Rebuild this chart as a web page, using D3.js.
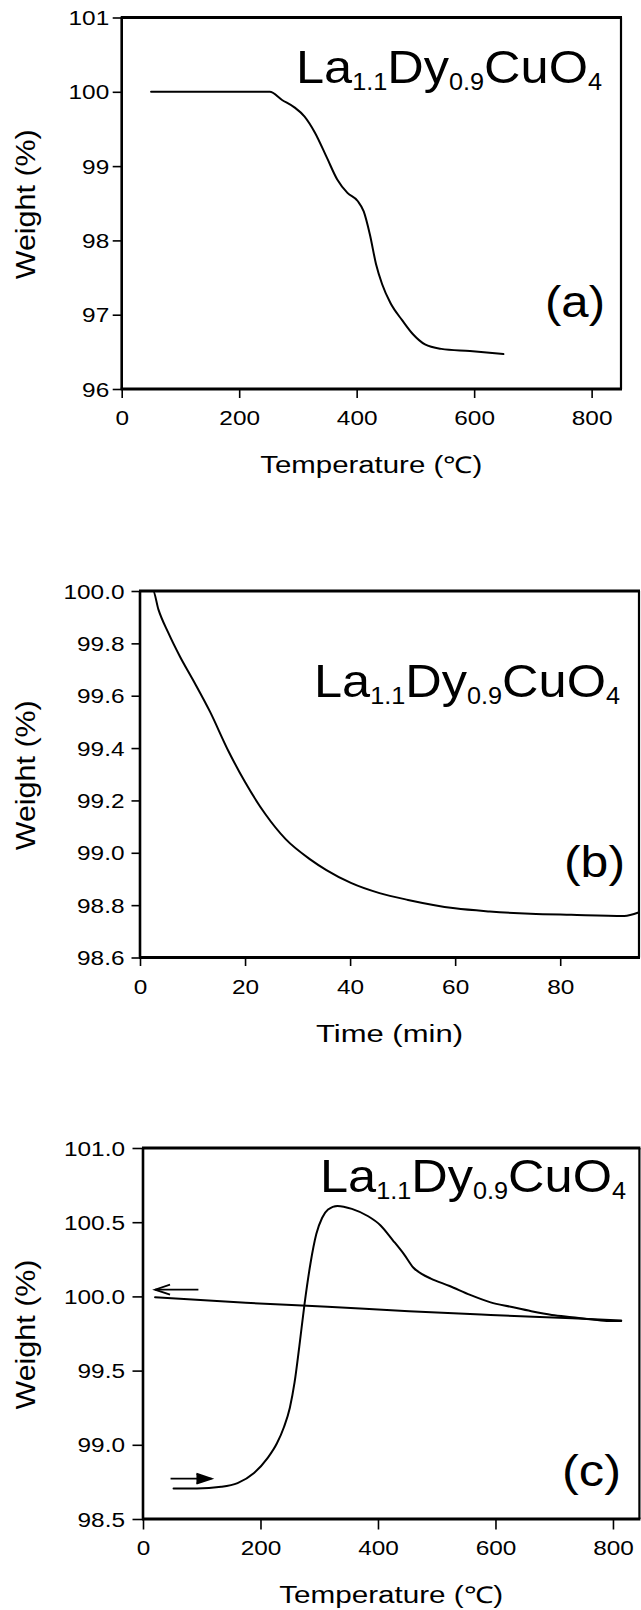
<!DOCTYPE html>
<meta charset="utf-8">
<style>
body { margin: 0; background: #fff; }
svg { display: block; }
.curve { fill: none; stroke: #000; stroke-width: 2px; stroke-linejoin: round; stroke-linecap: round; }
text { font-family: "Liberation Sans", Arial, Helvetica, sans-serif; fill: #000; }
</style>
<body></body>
<script src="https://cdn.jsdelivr.net/npm/d3@7"></script>
<script>

// ---- data ----

// (a) weight vs temperature
var tempA   = [50, 252, 273, 294, 311, 329, 349.5, 366.9, 384.3, 401.7, 412, 422.5, 433, 443.4, 457.3, 478, 495.5, 516.3, 544, 592.8, 649.8];
var weightA = [100.0, 100.0, 99.89, 99.79, 99.67, 99.45, 99.11, 98.82, 98.64, 98.53, 98.39, 98.08, 97.68, 97.41, 97.16, 96.92, 96.74, 96.60, 96.54, 96.51, 96.47];

// (b) weight vs time
var timeB   = [0, 2.5, 3.5, 5.4, 7.6, 10.1, 13.3, 16.8, 20, 23.85, 27.73, 32.39, 35.49, 40.15, 45.6, 51.03, 59.96, 66.57, 74.33, 82.1, 92.2, 94.9];
var weightB = [100.0, 100.0, 99.93, 99.84, 99.75, 99.66, 99.54, 99.39, 99.27, 99.148, 99.052, 98.975, 98.934, 98.885, 98.846, 98.82, 98.788, 98.776, 98.767, 98.763, 98.759, 98.772];

// (c) heating run and cooling run
var tempHeat   = [52, 91.7, 133, 161, 189, 212, 228, 240, 250, 258, 266, 275, 285, 295, 305, 315, 331, 355.6, 383.3, 404, 425, 445, 460, 475, 490, 522, 557, 591.7, 626, 661, 696, 730.5, 765, 793, 814];
var weightHeat = [98.706, 98.706, 98.717, 98.742, 98.81, 98.91, 99.01, 99.12, 99.25, 99.42, 99.66, 99.95, 100.22, 100.42, 100.53, 100.585, 100.61, 100.59, 100.54, 100.48, 100.38, 100.28, 100.195, 100.15, 100.12, 100.07, 100.01, 99.96, 99.93, 99.90, 99.875, 99.86, 99.845, 99.835, 99.835];
var tempCool   = [20.5, 175, 314, 452.8, 591.7, 730.5, 814];
var weightCool = [99.995, 99.957, 99.93, 99.90, 99.875, 99.852, 99.837];

// arrows in (c): [T start, T end, weight]
var arrowCool = [94.3, 20.5, 100.045];
var arrowHeat = [46.9, 116.5, 98.772];

// ticks
var tempTicks = [0, 200, 400, 600, 800];
var timeTicks = [0, 20, 40, 60, 80];
var ticksA = [96, 97, 98, 99, 100, 101];
var ticksB = [98.6, 98.8, 99.0, 99.2, 99.4, 99.6, 99.8, 100.0];
var ticksC = [98.5, 99.0, 99.5, 100.0, 100.5, 101.0];

var formula = [["La", false], ["1.1", true], ["Dy", false], ["0.9", true], ["CuO", false], ["4", true]];

var svg = d3.select("body").append("svg")
    .attr("width", 641)
    .attr("height", 1610);

function drawPanel(p) {
    var x = d3.scaleLinear().domain(p.xDomain).range([p.left, p.right]);
    var y = d3.scaleLinear().domain(p.yDomain).range([p.bottom, p.top]);
    var g = svg.append("g");

    // y axis
    var ya = g.append("g")
        .attr("transform", "translate(" + x(0) + ",0)")
        .call(d3.axisLeft(y).tickValues(p.yTicks).tickFormat(p.yFormat).tickSize(p.tick).tickSizeOuter(0));
    ya.select(".domain").remove();
    ya.selectAll("line").attr("stroke-width", 1.6);
    ya.selectAll("text")
        .attr("x", 0).attr("dy", "0.36em")
        .attr("transform", "translate(" + (-p.yGap) + ",0) scale(1.25,1)")
        .style("font-size", "19.5px");

    // x axis
    var xa = g.append("g")
        .attr("transform", "translate(0," + p.bottom + ")")
        .call(d3.axisBottom(x).tickValues(p.xTicks).tickFormat(d3.format("d")).tickSize(p.tick).tickSizeOuter(0));
    xa.select(".domain").remove();
    xa.selectAll("line").attr("stroke-width", 1.6);
    xa.selectAll("text")
        .attr("y", 0).attr("dy", 0)
        .attr("transform", "translate(0,36) scale(1.25,1)")
        .style("font-size", "19.5px");

    // frame
    g.append("line").attr("x1", p.left - 1).attr("x2", p.right + 1).attr("y1", p.top).attr("y2", p.top)
        .attr("stroke", "#000").attr("stroke-width", 3);
    g.append("line").attr("x1", p.left - 1).attr("x2", p.right + 1).attr("y1", p.bottom).attr("y2", p.bottom)
        .attr("stroke", "#000").attr("stroke-width", 3.2);
    g.append("line").attr("x1", p.left).attr("x2", p.left).attr("y1", p.top).attr("y2", p.bottom)
        .attr("stroke", "#000").attr("stroke-width", 2.6);
    g.append("line").attr("x1", p.right).attr("x2", p.right).attr("y1", p.top).attr("y2", p.bottom)
        .attr("stroke", "#000").attr("stroke-width", 2.2);

    // curves
    var line = d3.line()
        .x(function(d) { return x(d[0]); })
        .y(function(d) { return y(d[1]); })
        .curve(d3.curveMonotoneX);
    p.series.forEach(function(s) {
        g.append("path")
            .datum(d3.zip(s[0], s[1]))
            .attr("class", "curve")
            .attr("d", line);
    });

    // arrows
    (p.arrows || []).forEach(function(a) {
        var x0 = x(a[0]), x1 = x(a[1]), yy = y(a[2]);
        var dir = x1 > x0 ? 1 : -1;
        g.append("line").attr("x1", x0).attr("x2", x1).attr("y1", yy).attr("y2", yy)
            .attr("stroke", "#000").attr("stroke-width", 1.8);
        g.append("path")
            .attr("d", "M" + (x1 - dir * 15) + "," + (yy - 5) + "L" + x1 + "," + yy + "L" + (x1 - dir * 15) + "," + (yy + 5))
            .attr("fill", dir > 0 ? "#000" : "none")
            .attr("stroke", "#000").attr("stroke-width", 1.8);
    });

    // formula
    var f = g.append("text")
        .attr("x", p.formula[0]).attr("y", p.formula[1])
        .attr("textLength", p.formula[2]).attr("lengthAdjust", "spacingAndGlyphs")
        .style("font-size", "46px");
    var shifted = false;
    formula.forEach(function(part) {
        var t = f.append("tspan").text(part[0]);
        if (part[1]) { t.style("font-size", "23px").attr("dy", 7); shifted = true; }
        else if (shifted) { t.attr("dy", -7); shifted = false; }
    });

    // panel letter
    g.append("text")
        .attr("x", p.letter[0]).attr("y", p.letter[1])
        .attr("textLength", p.letter[2]).attr("lengthAdjust", "spacingAndGlyphs")
        .style("font-size", "45px")
        .text(p.letterText);

    // axis titles
    g.append("text")
        .attr("x", (p.left + p.right) / 2).attr("y", p.bottom + 84)
        .attr("text-anchor", "middle")
        .attr("textLength", p.xTitleLen).attr("lengthAdjust", "spacingAndGlyphs")
        .style("font-size", "23px")
        .text(p.xTitle);
    g.append("text")
        .attr("transform", "translate(34.5," + ((p.top + p.bottom) / 2 + 1) + ") rotate(-90)")
        .attr("text-anchor", "middle")
        .attr("textLength", 150).attr("lengthAdjust", "spacingAndGlyphs")
        .style("font-size", "27px")
        .text("Weight (%)");
}

drawPanel({
    left: 121.7, right: 621, top: 17.5, bottom: 389,
    xDomain: [0, 850], yDomain: [96, 101],
    xTicks: tempTicks, yTicks: ticksA, yFormat: d3.format("d"),
    tick: 9, yGap: 12.5,
    series: [[tempA, weightA]],
    formula: [296, 83, 306],
    letter: [545, 317, 60], letterText: "(a)",
    xTitle: "Temperature (\u2103)", xTitleLen: 222
});

drawPanel({
    left: 140, right: 639, top: 591, bottom: 957.5,
    xDomain: [0, 95], yDomain: [98.6, 100.0],
    xTicks: timeTicks, yTicks: ticksB, yFormat: d3.format(".1f"),
    tick: 8.5, yGap: 15.5,
    series: [[timeB, weightB]],
    formula: [314, 697, 306],
    letter: [564, 877, 61], letterText: "(b)",
    xTitle: "Time (min)", xTitleLen: 147
});

drawPanel({
    left: 143, right: 639.4, top: 1148, bottom: 1519,
    xDomain: [0, 845], yDomain: [98.5, 101.0],
    xTicks: tempTicks, yTicks: ticksC, yFormat: d3.format(".1f"),
    tick: 10.5, yGap: 18,
    series: [[tempHeat, weightHeat], [tempCool, weightCool]],
    arrows: [arrowCool, arrowHeat],
    formula: [320, 1192, 306],
    letter: [562, 1486, 59], letterText: "(c)",
    xTitle: "Temperature (\u2103)", xTitleLen: 224
});

</script>
